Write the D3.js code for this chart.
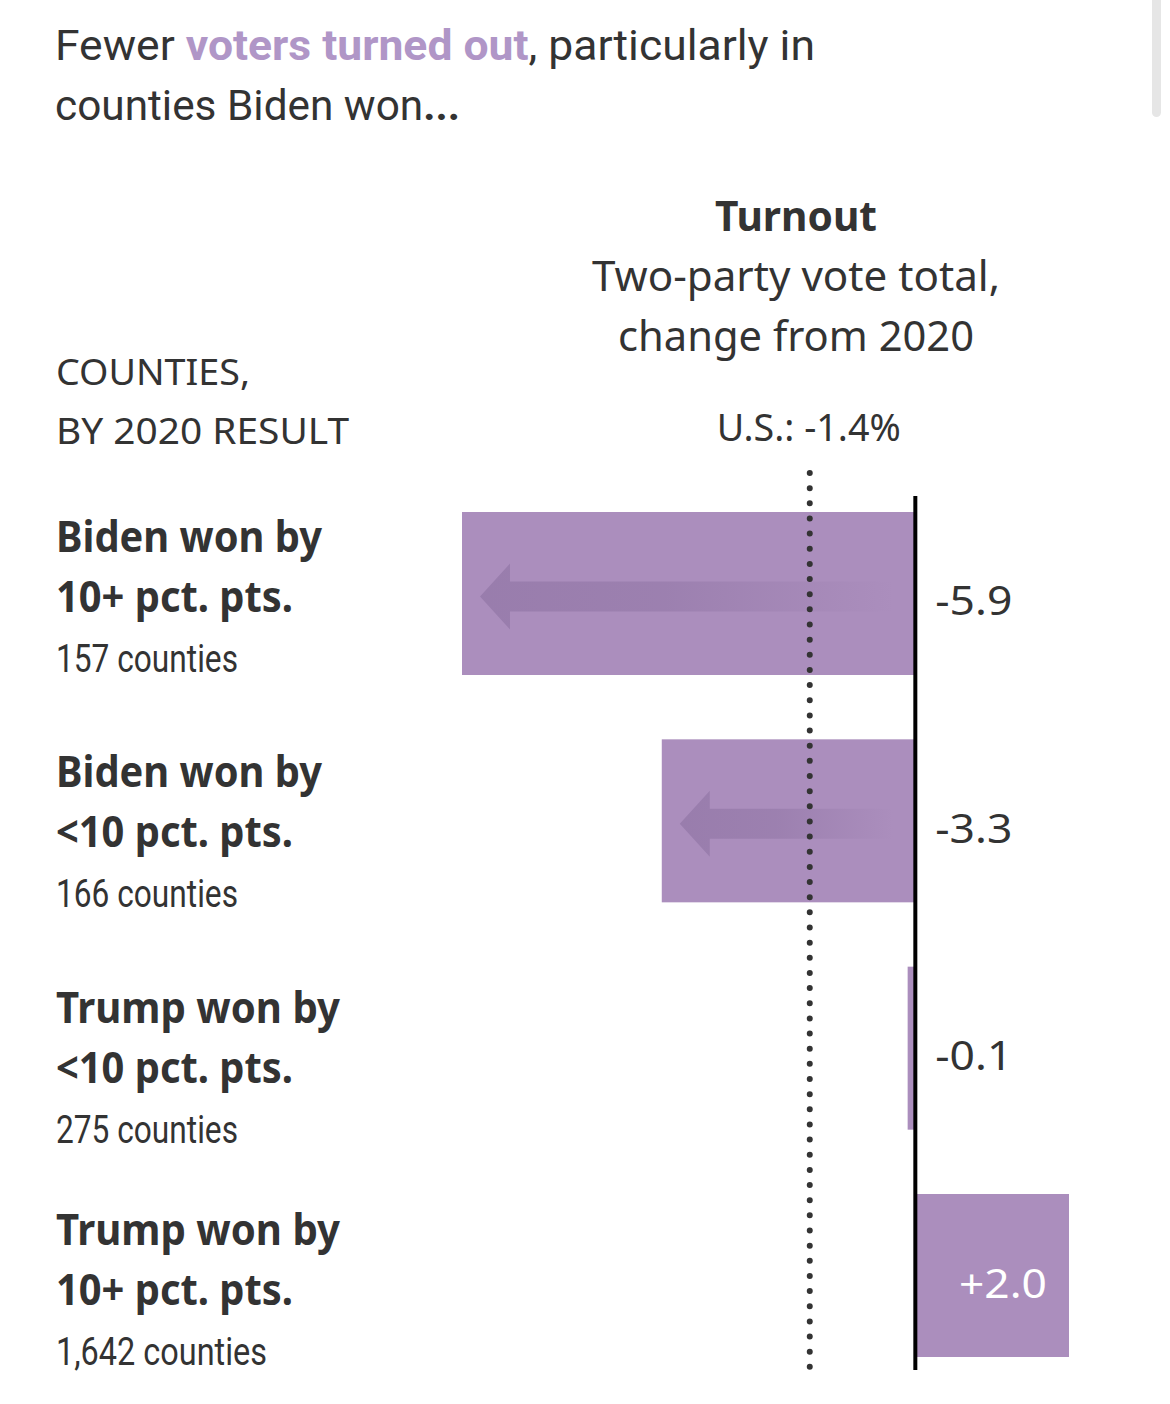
<!DOCTYPE html>
<html>
<head>
<meta charset="utf-8">
<script src="https://cdn.jsdelivr.net/npm/d3@7"></script>
<style>
  html, body { margin: 0; padding: 0; background: #fff; }
  svg { display: block; }
</style>
</head>
<body>
<svg id="chart" width="1170" height="1404"></svg>
<script>
// ---- data ----
const labelLine1 = ["Biden won by", "Biden won by", "Trump won by", "Trump won by"];
const labelLine2 = ["10+ pct. pts.", "<10 pct. pts.", "<10 pct. pts.", "10+ pct. pts."];
const countyCounts = [157, 166, 275, 1642];
const turnoutChange = [-5.9, -3.3, -0.1, 2.0];
const usAverage = -1.4;
const titleParts = [["Fewer ", false], ["voters turned out", true], [", particularly in", false]];
const titleLine2 = ["counties Biden won", "..."];
const headerLeft = ["COUNTIES,", "BY 2020 RESULT"];
const headerRight = ["Turnout", "Two-party vote total,", "change from 2020"];

// ---- setup ----
const svg = d3.select("#chart");
const ink = "#333333";
const barColor = "#ab8ebd";
const titlePurple = "#b096c7";
const condensed = "'Liberation Sans Narrow', 'Roboto', sans-serif";
const regular = "'Noto Sans', 'Open Sans', sans-serif";

const rows = d3.range(turnoutChange.length);
const x = d3.scaleLinear().domain([d3.min(turnoutChange), d3.max(turnoutChange)]).range([462, 1069]);
const y = d3.scaleBand().domain(rows).range([512, 1357]).paddingInner(0.283).paddingOuter(0);
const yLabel = d3.scalePoint().domain(rows).range([552, 1245]);

function fit(sel, w) { sel.attr("textLength", w).attr("lengthAdjust", "spacingAndGlyphs"); }

// scrollbar hint at top-right
svg.append("rect").attr("x", 1152).attr("y", -10).attr("width", 9).attr("height", 127)
  .attr("rx", 4.5).attr("fill", "#e6e6e6");

// ---- title ----
const t1 = svg.append("text").attr("x", 55).attr("y", 60)
  .attr("font-family", condensed).attr("font-size", 42).attr("fill", ink);
titleParts.forEach(([s, hl]) => {
  t1.append("tspan").text(s)
    .attr("fill", hl ? titlePurple : ink)
    .attr("font-weight", hl ? "bold" : "normal");
});
fit(t1, 760);
const t2 = svg.append("text").attr("x", 55).attr("y", 120)
  .attr("font-family", condensed).attr("font-size", 42).attr("fill", ink);
t2.append("tspan").text(titleLine2[0]);
t2.append("tspan").text(titleLine2[1]).attr("font-weight", "bold");
fit(t2, 405);

// ---- headers ----
svg.selectAll("text.hl").data(headerLeft).join("text")
  .attr("class", "hl")
  .attr("x", 56).attr("y", (d, i) => 385 + i * 59)
  .attr("font-family", regular).attr("font-size", 36).attr("fill", ink)
  .text(d => d)
  .each(function(d, i) { fit(d3.select(this), i === 0 ? 194 : 293); });

const hx = 796;
svg.selectAll("text.hr").data(headerRight).join("text")
  .attr("class", "hr")
  .attr("x", hx).attr("y", (d, i) => 231 + i * 60)
  .attr("text-anchor", "middle")
  .attr("font-family", regular)
  .attr("font-weight", (d, i) => i === 0 ? "bold" : "normal")
  .attr("font-size", (d, i) => i === 0 ? 42 : 41)
  .attr("fill", ink)
  .text(d => d)
  .each(function(d, i) { fit(d3.select(this), [162, 408, 356][i]); });

svg.append("text").attr("x", x(usAverage) + 1).attr("y", 441)
  .attr("text-anchor", "middle")
  .attr("font-family", regular).attr("font-size", 39).attr("fill", ink)
  .text(`U.S.: ${usAverage.toFixed(1)}%`)
  .call(s => fit(s, 184));

// ---- left labels ----
const lab = svg.append("g");
const rowNudge = i => (i === 1 ? 4 : i === 2 ? 9 : 0);
lab.selectAll("text.l1").data(rows).join("text").attr("class", "l1")
  .attr("x", 56).attr("y", i => yLabel(i) + rowNudge(i))
  .attr("font-family", regular).attr("font-weight", "bold").attr("font-size", 43).attr("fill", ink)
  .text(i => labelLine1[i])
  .each(function(i) { fit(d3.select(this), labelLine1[i].startsWith("Biden") ? 266 : 284); });
lab.selectAll("text.l2").data(rows).join("text").attr("class", "l2")
  .attr("x", 56).attr("y", i => yLabel(i) + rowNudge(i) + 60)
  .attr("font-family", regular).attr("font-weight", "bold").attr("font-size", 43).attr("fill", ink)
  .text(i => labelLine2[i])
  .each(function(i) { fit(d3.select(this), 237); });
lab.selectAll("text.l3").data(rows).join("text").attr("class", "l3")
  .attr("x", 56).attr("y", i => yLabel(i) + rowNudge(i) + 120)
  .attr("font-family", condensed).attr("font-size", 38).attr("fill", ink)
  .text(i => `${d3.format(",")(countyCounts[i])} counties`)
  .each(function(i) { fit(d3.select(this), countyCounts[i] >= 1000 ? 211 : 182); });

// ---- bars ----
svg.append("g").selectAll("rect").data(rows).join("rect")
  .attr("x", i => Math.min(x(0), x(turnoutChange[i])))
  .attr("y", i => y(i))
  .attr("width", i => Math.abs(x(turnoutChange[i]) - x(0)))
  .attr("height", y.bandwidth())
  .attr("fill", barColor);

// arrows
const defs = svg.append("defs");
const grad = defs.append("linearGradient").attr("id", "arrowGrad")
  .attr("x1", 0).attr("x2", 1).attr("y1", 0).attr("y2", 0);
grad.append("stop").attr("offset", 0).attr("stop-color", "#8a6f9f").attr("stop-opacity", 0.55);
grad.append("stop").attr("offset", 0.45).attr("stop-color", "#8a6f9f").attr("stop-opacity", 0.45);
grad.append("stop").attr("offset", 1).attr("stop-color", "#8a6f9f").attr("stop-opacity", 0);

const arrowRows = rows.filter(i => turnoutChange[i] <= -1);
svg.append("g").selectAll("path").data(arrowRows).join("path")
  .attr("d", i => {
    const cy = y(i) + y.bandwidth() / 2 + 3;
    const tip = x(turnoutChange[i]) + 18;
    const tail = x(0) - 22;
    const headLen = 30, headH = 33, shaftH = 15;
    return `M${tip},${cy} L${tip + headLen},${cy - headH} L${tip + headLen},${cy - shaftH} L${tail},${cy - shaftH} L${tail},${cy + shaftH} L${tip + headLen},${cy + shaftH} L${tip + headLen},${cy + headH} Z`;
  })
  .attr("fill", "url(#arrowGrad)");

// US average dotted line
svg.append("line")
  .attr("x1", x(usAverage) + 2).attr("x2", x(usAverage) + 2)
  .attr("y1", 473).attr("y2", 1382)
  .attr("stroke", "#333").attr("stroke-width", 6)
  .attr("stroke-linecap", "round").attr("stroke-dasharray", "0 15.15");

// zero line
svg.append("line")
  .attr("x1", x(0)).attr("x2", x(0))
  .attr("y1", 496).attr("y2", 1370)
  .attr("stroke", "#000").attr("stroke-width", 4);

// value labels
svg.append("g").selectAll("text").data(rows).join("text")
  .attr("x", i => turnoutChange[i] < 0 ? x(0) + 20 : x(turnoutChange[i]) - 22)
  .attr("y", i => y(i) + y.bandwidth() / 2 + 22)
  .attr("text-anchor", i => turnoutChange[i] < 0 ? "start" : "end")
  .attr("font-family", regular).attr("font-size", 40)
  .attr("fill", i => turnoutChange[i] < 0 ? ink : "#fff")
  .text(i => (turnoutChange[i] > 0 ? "+" : "") + turnoutChange[i].toFixed(1))
  .each(function(i) { fit(d3.select(this), turnoutChange[i] > 0 ? 88 : 77); });
</script>
</body>
</html>
